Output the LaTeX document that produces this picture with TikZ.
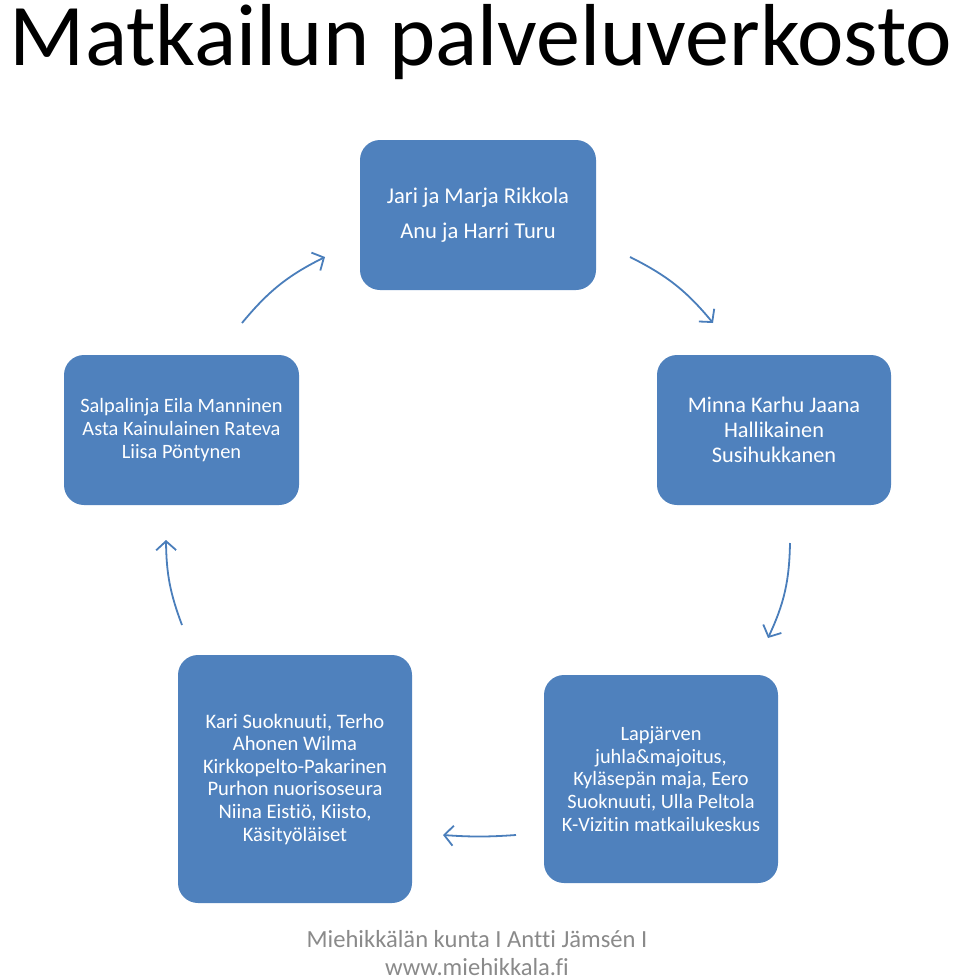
\documentclass[tikz,border=0pt]{standalone}
\usepackage{fontspec}
\setmainfont[Ligatures={NoCommon}]{Carlito}
\usetikzlibrary{arrows.meta}
\definecolor{boxblue}{HTML}{4F81BD}
\definecolor{arrowblue}{HTML}{4A7EBB}
\definecolor{footgray}{HTML}{8A8A8A}
\begin{document}
\begin{tikzpicture}[x=1pt,y=-1pt,
  box/.style={fill=boxblue,draw=none,rounded corners=20pt,inner sep=0pt,
    text=white,align=center},
  cyc/.style={draw=arrowblue,line width=1.8pt,
    -{Straight Barb[length=9pt,width=20pt,line width=1.8pt]}},
  boxtext/.style={text=white,align=center}
]
\useasboundingbox (0,0) rectangle (960,980);
\node[anchor=base,font=\fontsize{88}{100}\selectfont] (title) at (481,65) {Matkailun palveluverkosto};

\node[box,minimum width=236pt,minimum height=150pt] (top) at (478,215) {};
\node[boxtext,font=\fontsize{22.6}{35}\selectfont] (toptext) at (478,215) {Jari ja Marja Rikkola\\Anu ja Harri Turu};

\node[box,minimum width=235pt,minimum height=150pt] (left) at (181.5,430) {};
\node[boxtext,font=\fontsize{20.4}{22.6}\selectfont] (lefttext) at (181.5,430) {Salpalinja Eila Manninen\\Asta Kainulainen Rateva\\Liisa Pöntynen};

\node[box,minimum width=234pt,minimum height=150pt] (right) at (774,430) {};
\node[boxtext,font=\fontsize{22.3}{25}\selectfont] (righttext) at (774,430) {Minna Karhu Jaana\\Hallikainen\\Susihukkanen};

\node[box,minimum width=234pt,minimum height=248pt] (bl) at (295,779) {};
\node[boxtext,font=\fontsize{20.6}{22.6}\selectfont] (bltext) at (295,779) {Kari Suoknuuti, Terho\\Ahonen Wilma\\Kirkkopelto-Pakarinen\\Purhon nuorisoseura\\Niina Eistiö, Kiisto,\\Käsityöläiset};

\node[box,minimum width=234pt,minimum height=208pt] (br) at (661,779) {};
\node[boxtext,font=\fontsize{20.4}{22.7}\selectfont] (brtext) at (661,779) {Lapjärven\\juhla\&majoitus,\\Kyläsepän maja, Eero\\Suoknuuti, Ulla Peltola\\K-Vizitin matkailukeskus};

\coordinate (a1s) at (242,323); \coordinate (a1e) at (325,257);
\coordinate (a2s) at (630,257); \coordinate (a2e) at (713,323);
\coordinate (a3s) at (790,543); \coordinate (a3e) at (768,638);
\coordinate (a4s) at (516,835); \coordinate (a4e) at (443,835);
\coordinate (a5s) at (182,625); \coordinate (a5e) at (166,540);
\draw[cyc] (a1s) to[bend left=12] (a1e);
\draw[cyc] (a2s) to[bend left=12] (a2e);
\draw[cyc] (a3s) to[bend left=12] (a3e);
\draw[cyc] (a4s) to[bend left=4] (a4e);
\draw[cyc] (a5s) to[bend left=10] (a5e);

\node[text=footgray,align=center,font=\fontsize{24.6}{28}\selectfont] (foot) at (477,953) {Miehikkälän kunta I Antti Jämsén I\\www.miehikkala.fi};
\end{tikzpicture}
\end{document}
